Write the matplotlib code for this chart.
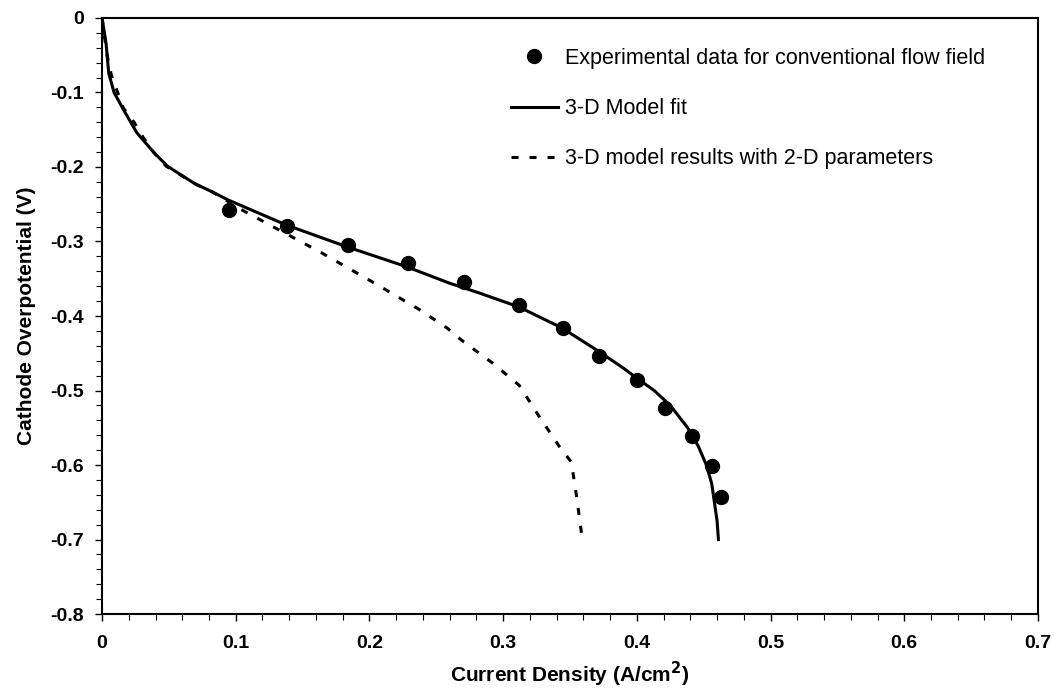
import numpy as np
import matplotlib
matplotlib.use("Agg")
import matplotlib.pyplot as plt
from matplotlib.ticker import MultipleLocator, FuncFormatter

plt.rcParams['font.family'] = ['Liberation Sans', 'DejaVu Sans']

# experimental points (A/cm2, V)
exp_i = [0.095, 0.138, 0.184, 0.229, 0.271, 0.312, 0.345, 0.372, 0.400, 0.421, 0.441, 0.456, 0.463]
exp_v = [-0.258, -0.279, -0.305, -0.329, -0.354, -0.385, -0.416, -0.454, -0.486, -0.523, -0.561, -0.601, -0.643]

# 3-D model fit
fit_i = [0.0, 0.003, 0.005, 0.009, 0.016, 0.026, 0.039, 0.049, 0.069, 0.082, 0.094, 0.138,
         0.183, 0.228, 0.260, 0.282, 0.312, 0.344, 0.372, 0.390, 0.402, 0.413, 0.425, 0.438,
         0.446, 0.452, 0.456, 0.458, 0.460, 0.461]
fit_v = [0.0, -0.034, -0.074, -0.100, -0.123, -0.154, -0.181, -0.199, -0.222, -0.233, -0.244, -0.278,
         -0.307, -0.334, -0.356, -0.369, -0.388, -0.416, -0.448, -0.470, -0.486, -0.500, -0.520, -0.550,
         -0.575, -0.600, -0.625, -0.650, -0.675, -0.700]

# 3-D model with 2-D parameters
par_i = [0.0, 0.002, 0.004, 0.007, 0.016, 0.024, 0.031, 0.039, 0.048, 0.059, 0.071, 0.082, 0.105,
         0.165, 0.202, 0.237, 0.258, 0.270, 0.292, 0.312, 0.327, 0.342, 0.351, 0.355, 0.359]
par_v = [0.0, -0.027, -0.052, -0.077, -0.121, -0.140, -0.161, -0.181, -0.199, -0.211, -0.224, -0.233, -0.258,
         -0.316, -0.354, -0.391, -0.416, -0.434, -0.463, -0.493, -0.535, -0.575, -0.596, -0.643, -0.697]

fig = plt.figure(figsize=(10.54, 6.90), dpi=100)
ax = fig.add_axes([0.0968, 0.110, 0.888, 0.864])

ax.plot(exp_i, exp_v, 'o', color='black', markersize=10, linestyle='none',
        label='Experimental data for conventional flow field')
ax.plot(fit_i, fit_v, '-', color='black', linewidth=2.2, label='3-D Model fit')
ax.plot(par_i, par_v, color='black', linewidth=2.2, dashes=(2.3, 3.6),
        label='3-D model results with 2-D parameters')

ax.set_xlim(0, 0.7)
ax.set_ylim(-0.8, 0)
ax.xaxis.set_major_locator(MultipleLocator(0.1))
ax.xaxis.set_minor_locator(MultipleLocator(0.02))
ax.yaxis.set_major_locator(MultipleLocator(0.1))
ax.yaxis.set_minor_locator(MultipleLocator(0.02))
fmt = FuncFormatter(lambda v, p: '0' if abs(v) < 1e-9 else ('%.1f' % v))
ax.xaxis.set_major_formatter(fmt)
ax.yaxis.set_major_formatter(fmt)

for s in ax.spines.values():
    s.set_linewidth(1.5)
ax.tick_params(which='major', direction='out', length=5, width=1.0, labelsize=14)
ax.tick_params(axis='y', which='major', pad=8)
ax.tick_params(axis='x', which='major', pad=10)
ax.tick_params(which='minor', direction='out', length=4, width=0.8)
for lab in ax.get_xticklabels() + ax.get_yticklabels():
    lab.set_fontweight('bold')

ax.set_xlabel('Current Density (A/cm$^\\mathbf{2}$)', fontsize=15, fontweight='bold', labelpad=6)
ax.set_ylabel('Cathode Overpotential (V)', fontsize=15, fontweight='bold', labelpad=10)

ax.legend(loc='upper left', bbox_to_anchor=(0.4275, 0.964), frameon=False, fontsize=15.5,
          handlelength=2.2, handletextpad=0.33, labelspacing=1.35, borderaxespad=0)

fig.savefig('out.png', dpi=100)
